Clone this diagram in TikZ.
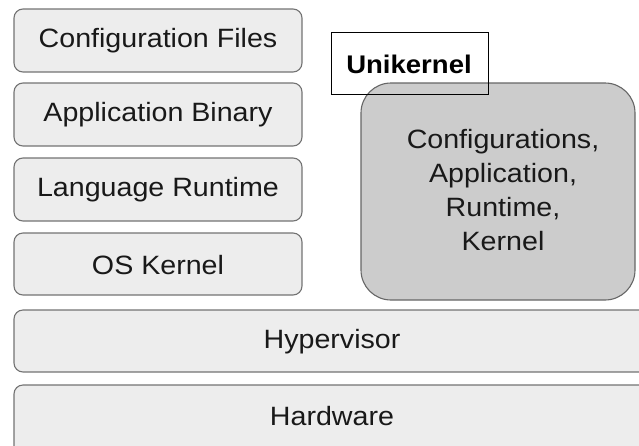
\documentclass[tikz,border=0pt]{standalone}
\usepackage{fontspec}
\setmainfont{Liberation Sans}[FakeStretch=1.08]
\begin{document}
\begin{tikzpicture}[x=1pt,y=-1pt,
  layer/.style={draw=black!55,line width=1.1pt,fill=black!7,rounded corners=9pt},
  lbl/.style={font=\fontsize{26.5}{30}\selectfont,text=black!90,anchor=center},
  core/.style={draw=black!60,line width=1.1pt,fill=black!20,rounded corners=30pt}]
\useasboundingbox (0,0) rectangle (639,445);
\clip (0,0) rectangle (639,445);
% left-hand stack of a conventional VM
\draw[layer] (14,9) rectangle (302,72);
\node[lbl] (cfg) at (158,41) {Configuration Files};
\draw[layer] (14,83) rectangle (302,146);
\node[lbl] (bin) at (158,115) {Application Binary};
\draw[layer] (14,158) rectangle (302,221);
\node[lbl] (rt) at (158,190) {Language Runtime};
\draw[layer] (14,233) rectangle (302,295);
\node[lbl] (os) at (158,265) {OS Kernel};
% shared layers, running off the right edge
\draw[layer] (14,310) rectangle (660,372);
\node[lbl] (hyp) at (332,342) {Hypervisor};
\draw[layer] (14,385) rectangle (660,460);
\node[lbl] (hw) at (332,416) {Hardware};
% the unikernel image
\draw[core] (361,83) rectangle (635,300);
\node[lbl,align=center,font=\fontsize{26.5}{34}\selectfont] (uk) at (503,190)
  {Configurations,\\Application,\\Runtime,\\Kernel};
\draw[black,line width=1pt] (331,32) rectangle (488,94);
\node[lbl,font=\fontsize{25.5}{30}\selectfont\bfseries,text=black] (ukt) at (409,64) {Unikernel};
\end{tikzpicture}
\end{document}
